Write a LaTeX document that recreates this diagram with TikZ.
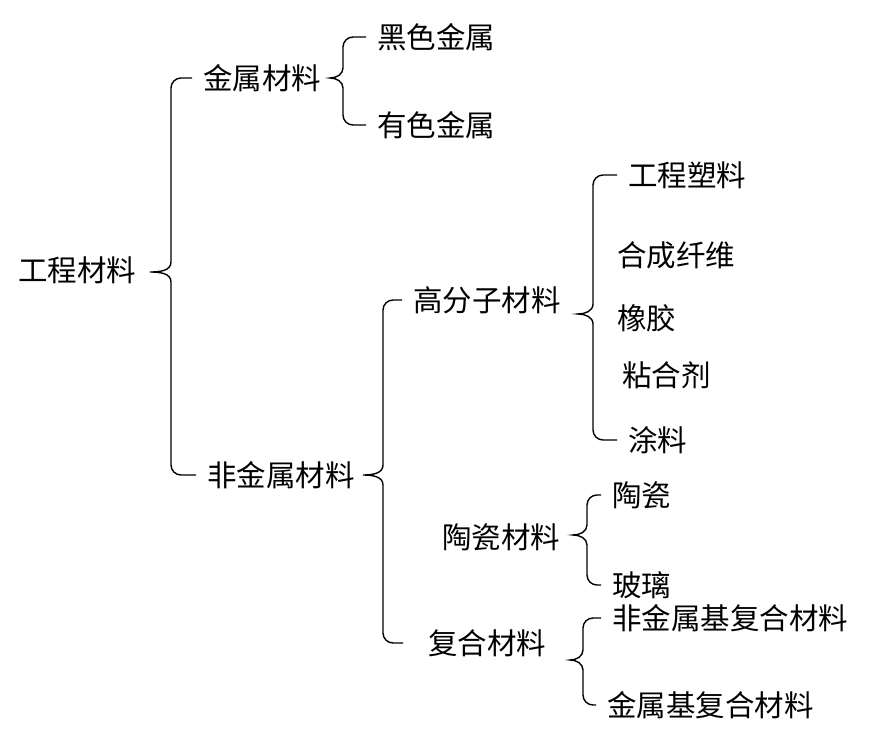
\documentclass[tikz,border=0pt]{standalone}
\usepackage{fontspec}
\setmainfont{Noto Sans CJK SC}
\usetikzlibrary{calc}
\tikzset{item/.style={anchor=west, inner xsep=11pt, inner ysep=2pt, font=\fontsize{29.5}{30}\selectfont},
    link/.style={line width=1.4pt}}
\newcommand{\curlylink}[4]{%
    \draw[link] let \p1=(#1), \p2=(#2.west), \p3=(#3.west), \n1={\x1+#4} in
        (\p2) -- (\n1+10pt,\y2) to[out=180,in=90] (\n1,\y2-10pt) -- (\n1,\y1+10pt)
        to[out=-90,in=0] (\p1) to[out=0,in=90] (\n1,\y1-10pt) -- (\n1,\y3+10pt)
        to[out=-90,in=180] (\n1+10pt,\y3) -- (\p3);}

\begin{document}
\begin{tikzpicture}[x=1pt,y=-1pt]
            \useasboundingbox (0,0) rectangle (890,743);
            \node[item] (root) at (7,270) {工程材料};
            \node[item] (metal) at (192,78) {金属材料};
            \node[item] (ferrous) at (366,37) {黑色金属};
            \node[item] (nonferrous) at (366,125) {有色金属};
            \node[item] (nonmetal) at (196,475) {非金属材料};
            \node[item] (polymer) at (402,300) {高分子材料};
            \node[item] (plastic) at (617,175) {工程塑料};
            \node[item] (fiber) at (606,255) {合成纤维};
            \node[item] (rubber) at (606,318) {橡胶};
            \node[item] (adhesive) at (611,375) {粘合剂};
            \node[item] (coating) at (617,440) {涂料};
            \node[item] (ceramicmat) at (431,537) {陶瓷材料};
            \node[item] (ceramic) at (601,495) {陶瓷};
            \node[item] (glass) at (601,585) {玻璃};
            \node[item, inner xsep=25pt] (composite) at (403,643) {复合材料};
            \node[item] (nonmetalbase) at (601,618) {非金属基复合材料};
            \node[item] (metalbase) at (596,705) {金属基复合材料};
            \coordinate (t0) at (150,272);
            \coordinate (t1) at (330,78);
            \coordinate (t2) at (363,475);
            \coordinate (t3) at (578,314);
            \coordinate (t4) at (573,535);
            \coordinate (t5) at (570,660);
            \curlylink{t0}{metal}{nonmetal}{21pt}
            \curlylink{t1}{ferrous}{nonferrous}{13pt}
            \curlylink{t2}{polymer}{composite}{20pt}
            \curlylink{t3}{plastic}{coating}{15pt}
            \curlylink{t4}{ceramic}{glass}{14pt}
            \curlylink{t5}{nonmetalbase}{metalbase}{13pt}
\end{tikzpicture}
\end{document}
